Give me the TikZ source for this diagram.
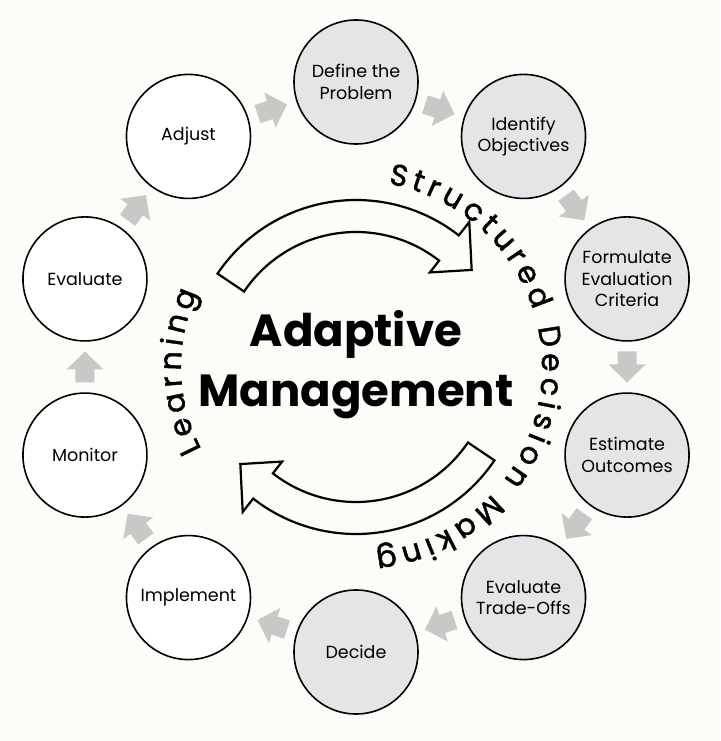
\documentclass[tikz,border=0pt]{standalone}
\usepackage{fontspec}
\setmainfont{Poppins}
\newfontfamily\arcfont{Poppins}[FakeBold=1.6]
\usetikzlibrary{decorations.text}

\definecolor{bgcream}{RGB}{252,252,248}
\definecolor{stepgray}{RGB}{228,229,231}
\definecolor{arrowgray}{RGB}{200,200,198}

\tikzset{
    stage/.style={circle, draw=black, line width=1.6pt, minimum size=124pt, inner sep=0pt,
        align=center, font=\fontsize{17.5}{21.5}\selectfont},
    sdm/.style={stage, fill=stepgray},
    learn/.style={stage, fill=white},
    bigarrow/.style={draw=black, fill=bgcream, line width=2.2pt, line join=miter},
    arctext/.style={decorate, decoration={text along path, text align={fit to path},
        text={|\arcfont\fontsize{30}{30}\selectfont|#1}}}
}

\begin{document}
\begin{tikzpicture}[x=1pt, y=1pt]
    % 1. Background and page size
    \fill[bgcream] (-356,-374) rectangle (364,367);
    \useasboundingbox (-356,-374) rectangle (364,367);

    % 2. The ten stages round the ring
    \foreach \ang/\nm/\sty/\txt in {
        90/define/sdm/{Define the\\Problem},
        54/identify/sdm/{Identify\\Objectives},
        18/formulate/sdm/{Formulate\\Evaluation\\Criteria},
        -18/estimate/sdm/{Estimate\\Outcomes},
        -54/tradeoffs/sdm/{Evaluate\\Trade-Offs},
        -90/decide/sdm/{Decide},
        -126/implement/learn/{Implement},
        -162/monitor/learn/{Monitor},
        162/evaluate/learn/{Evaluate},
        126/adjust/learn/{Adjust}} {
        \node[\sty] (\nm) at (\ang:285) {\txt};
    }

    % 3. Small gray arrows between the stages (clockwise)
    \foreach \a in {72,36,...,-252} {
        \fill[arrowgray, shift={(\a:271)}, rotate=\a-90]
            (-15.5,-9.5) -- (-2.5,-9.5) -- (-2.5,-18.5) -- (15.5,0)
            -- (-2.5,18.5) -- (-2.5,9.5) -- (-15.5,9.5) -- cycle;
    }

    % 4. The two big curved arrows in the middle
    \foreach \r in {0,180} {
        \draw[bigarrow, rotate=\r]
            (146:167) arc[start angle=146, end angle=52, radius=167]
            -- (52:184) -- (40:151) -- (52:120) -- (52:135)
            arc[start angle=52, end angle=146, radius=135] -- cycle;
    }

    % 5. Title
    \node[font=\bfseries\fontsize{45}{60}\selectfont, align=center] (title) at (0,2)
        {Adaptive\\Management};

    % 6. Texts along the arcs
    \path[arctext={Structured Decision Making}]
        (80:186) arc[start angle=80, end angle=-84, radius=186];
    \path[arctext={Learning}]
        (208:175) arc[start angle=208, end angle=155, radius=175];
\end{tikzpicture}
\end{document}
